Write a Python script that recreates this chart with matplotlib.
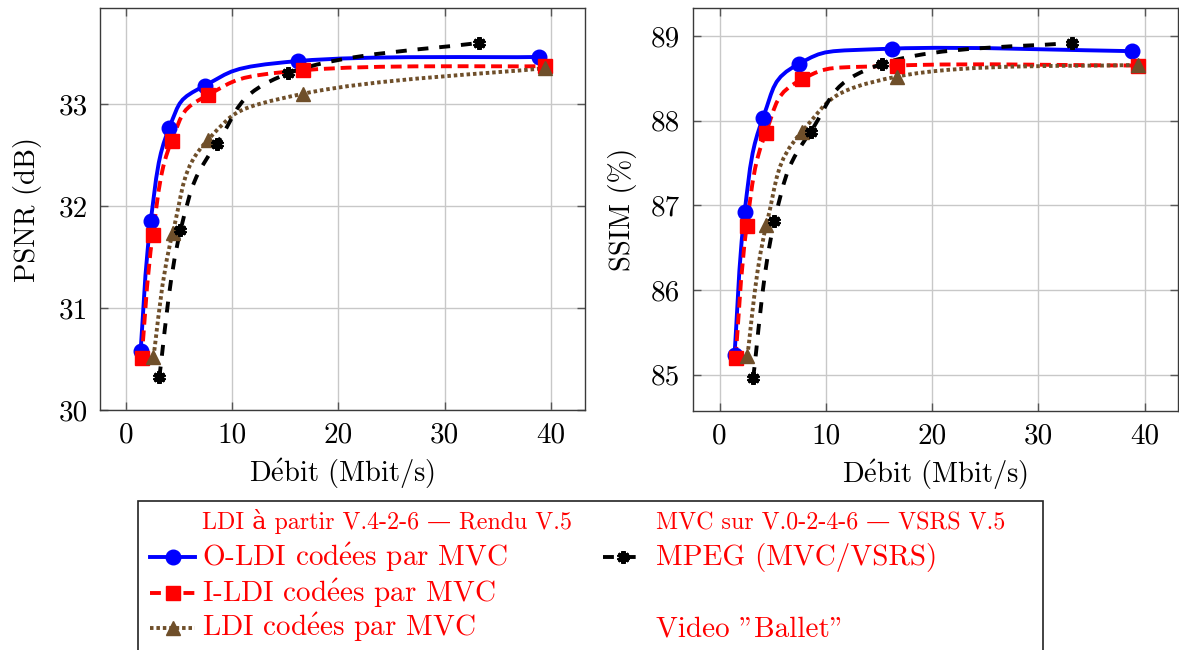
import numpy as np
import matplotlib.pyplot as plt
from matplotlib.path import Path
from matplotlib.patches import PathPatch, Rectangle
from matplotlib.lines import Line2D

plt.rcParams['font.family'] = ['cmr10', 'DejaVu Serif']
plt.rcParams['mathtext.fontset'] = 'cm'
plt.rcParams['axes.unicode_minus'] = False

E = r'$\mathrm{\acute{e}}$'

# debit (Mbit/s)
rate_oldi = [1.4, 2.35, 4.07, 7.45, 16.2, 38.85]
rate_ildi = [1.5, 2.54, 4.32, 7.78, 16.7, 39.4]
rate_ldi = [2.6, 4.4, 7.75, 16.7, 39.4]
rate_mpeg = [3.15, 5.15, 8.56, 15.3, 33.2]

psnr_oldi = [30.58, 31.85, 32.76, 33.18, 33.42, 33.46]
psnr_ildi = [30.51, 31.72, 32.64, 33.09, 33.33, 33.37]
psnr_ldi = [30.52, 31.73, 32.65, 33.10, 33.35]
psnr_mpeg = [30.32, 31.76, 32.61, 33.30, 33.60]

ssim_oldi = [85.23, 86.92, 88.03, 88.67, 88.85, 88.82]
ssim_ildi = [85.20, 86.75, 87.85, 88.49, 88.65, 88.65]
ssim_ldi = [85.22, 86.77, 87.87, 88.52, 88.66]
ssim_mpeg = [84.96, 86.81, 87.87, 88.67, 88.92]

labels = ['O-LDI cod' + E + 'es par MVC', 'I-LDI cod' + E + 'es par MVC',
          'LDI cod' + E + 'es par MVC', 'MPEG (MVC/VSRS)']
title_left = 'LDI à partir V.4-2-6 — Rendu V.5'
title_right = 'MVC sur V.0-2-4-6 — VSRS V.5'
video = 'Video "Ballet"'

brown = '#6f4f2a'
lw = 2.8
styles = [
    dict(color='#0000ff', ls='-', marker='o', ms=10.5),
    dict(color='#ff0000', ls=(0, (2.8, 1.5)), marker='s', ms=9.5),
    dict(color=brown, ls=(0, (0.9, 0.75)), marker='^', ms=10.5),
    dict(color='black', ls=(0, (2.8, 2.8)), marker=(6, 2, 0), ms=9),
]


def smooth_path(x, y, t=0.21):
    # pgfplots-like "smooth": cubic bezier through the points
    p = np.column_stack([x, y]).astype(float)
    n = len(p)
    verts = [p[0]]
    codes = [Path.MOVETO]
    for i in range(n - 1):
        pm = p[i - 1] if i > 0 else p[i]
        pn = p[i + 2] if i + 2 < n else p[i + 1]
        c1 = p[i] + t * (p[i + 1] - pm)
        c2 = p[i + 1] - t * (pn - p[i])
        verts += [c1, c2, p[i + 1]]
        codes += [Path.CURVE4] * 3
    return Path(verts, codes)


def marker_kw(st):
    kw = dict(marker=st['marker'], ms=st['ms'], mec=st['color'], mfc=st['color'])
    if st['marker'] == (6, 2, 0):
        kw['mew'] = 3
    return kw


def draw(ax, xs, ys):
    for x, y, st in zip(xs, ys, styles):
        patch = PathPatch(smooth_path(x, y), facecolor='none', edgecolor=st['color'],
                          lw=lw, linestyle=st['ls'], capstyle='butt', zorder=3)
        ax.add_patch(patch)
        ax.plot(x, y, linestyle='none', zorder=4, **marker_kw(st))
    ax.grid(True, color='#c8c8c8', lw=1)
    ax.set_axisbelow(True)
    for s in ax.spines.values():
        s.set_color('#3a3a3a')
        s.set_linewidth(1)
    ax.tick_params(direction='in', length=6, width=1, color='#555555',
                   top=True, right=True, labelsize=21, pad=9)
    ax.set_xticks([0, 10, 20, 30, 40])
    ax.set_xlim(-2.42, 43.2)
    ax.set_xlabel('D' + E + 'bit (Mbit/s)', fontsize=20.5, labelpad=6)


fig = plt.figure(figsize=(11.79, 6.5), dpi=100)
ax1 = fig.add_axes([100 / 1179, 1 - 410 / 650, 485 / 1179, 402 / 650])
ax2 = fig.add_axes([693 / 1179, 1 - 411 / 650, 485 / 1179, 403 / 650])

draw(ax1, [rate_oldi, rate_ildi, rate_ldi, rate_mpeg],
     [psnr_oldi, psnr_ildi, psnr_ldi, psnr_mpeg])
ax1.set_ylim(30, 33.94)
ax1.set_yticks([30, 31, 32, 33])
ax1.set_ylabel('PSNR (dB)', fontsize=20.5, labelpad=12)

draw(ax2, [rate_oldi, rate_ildi, rate_ldi, rate_mpeg],
     [ssim_oldi, ssim_ildi, ssim_ldi, ssim_mpeg])
ax2.set_ylim(84.57, 89.33)
ax2.set_yticks([85, 86, 87, 88, 89])
ax2.set_xlim(-2.51, 43.15)
ax2.set_ylabel('SSIM (%)', fontsize=20.5, labelpad=10)

# legend box, laid out by hand (pixel positions)
W, H = 1179, 650
fig.add_artist(Rectangle((138 / W, -0.05), (1043 - 138) / W, 0.05 + 1 - 501 / H,
                         transform=fig.transFigure, facecolor='none',
                         edgecolor='#222222', lw=1.2))


def leg_handle(st, x0, x1, yc):
    xm = (x0 + x1) / 2
    ln = Line2D([x0 / W, xm / W, x1 / W], [1 - yc / H] * 3, transform=fig.transFigure,
                color=st['color'], lw=lw, ls=st['ls'], dash_capstyle='butt',
                markevery=[1], **marker_kw(st))
    fig.add_artist(ln)


def leg_text(s, x, yb, size):
    fig.text(x / W, 1 - yb / H, s, color='red', fontsize=size, va='baseline', ha='left')


leg_text(title_left, 202, 529, 17.3)
leg_text(title_right, 656, 529, 17.3)
rows_y = [557, 593, 628]
for st, lab, yc in zip(styles[:3], labels[:3], rows_y):
    leg_handle(st, 150, 195, yc)
    leg_text(lab, 202, yc + 8.5, 21)
leg_handle(styles[3], 603, 643, rows_y[0])
leg_text(labels[3], 656, rows_y[0] + 8.5, 21)
leg_text(video, 656, rows_y[2] + 8.5, 21)

fig.savefig('out.png', dpi=100)
